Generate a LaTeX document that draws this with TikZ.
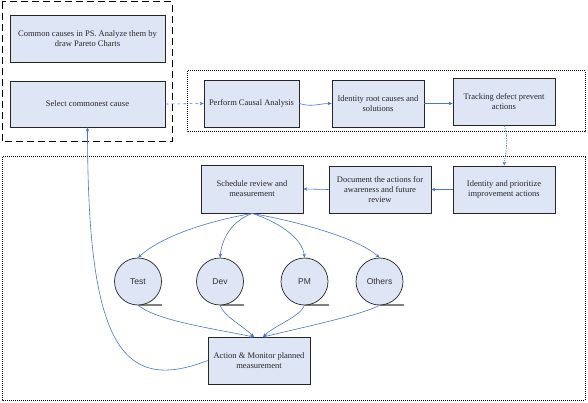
\documentclass[tikz,border=0pt]{standalone}
\usepackage{fontspec}
\setmainfont{Liberation Serif}
\newfontfamily\circfont{Liberation Sans}
\usetikzlibrary{arrows.meta,shadows}
\definecolor{flowc}{RGB}{74,116,205}
\definecolor{boxfill}{RGB}{222,229,245}
\begin{document}
\begin{tikzpicture}[x=1pt,y=-1pt,
  pbox/.style={draw=black!85, line width=0.8pt, fill=boxfill, align=center,
    font=\fontsize{8.5}{10}\selectfont, text=black!85, inner sep=2pt,
    drop shadow={shadow xshift=1.2pt,shadow yshift=-1.2pt,fill=black!65,opacity=1}},
  pcirc/.style={circle, draw=black!85, line width=0.7pt, fill=boxfill, minimum size=47pt,
    inner sep=0pt, font=\circfont\fontsize{8.5}{10}\selectfont, text=black!80},
  flow/.style={draw=flowc, line width=0.6pt, -{Stealth[length=4pt,width=3.5pt]}},
  grpdash/.style={draw=black, line width=1pt, dash pattern=on 7pt off 4pt},
  grpdot/.style={draw=black, line width=1pt, dash pattern=on 1pt off 1pt}
]
\useasboundingbox (0,0) rectangle (588,403);

% group frames
\draw[grpdash] (2,2) rectangle (172,142);
\draw[grpdot] (187,71) rectangle (585,132);
\draw[grpdot] (2,157) rectangle (585,400);

% boxes
\node[pbox, minimum width=155pt, minimum height=47pt] (common) at (87.5,38.5)
  {Common causes in PS. Analyze them by\\draw Pareto Charts};
\node[pbox, minimum width=155pt, minimum height=46pt] (select) at (87.5,104)
  {Select commonest cause};
\node[pbox, minimum width=95pt, minimum height=47pt] (perform) at (251.5,103.5)
  {Perform Causal Analysis};
\node[pbox, minimum width=92pt, minimum height=47pt] (rootc) at (378,103.5)
  {Identity root causes and\\solutions};
\node[pbox, minimum width=102pt, minimum height=47pt] (tracking) at (504,101.5)
  {Tracking defect prevent\\actions};
\node[pbox, minimum width=102pt, minimum height=47pt] (prior) at (504,189.5)
  {Identity and prioritize\\improvement actions};
\node[pbox, minimum width=102pt, minimum height=47pt] (document) at (380,189.5)
  {Document the actions for\\awareness and future\\review};
\node[pbox, minimum width=102pt, minimum height=48pt] (sched) at (252,189)
  {Schedule review and\\measurement};
\node[pbox, minimum width=102pt, minimum height=47pt] (action) at (259,360.5)
  {Action \& Monitor planned\\measurement};

% circles with base lines
\foreach \nm/\cx/\tx in {test/138/Test, dev/220/Dev, pm/304.5/PM, others/379.5/Others}{
  \draw[black!50, line width=1.5pt] (\cx,305) -- ++(24,0);
  \node[pcirc] (\nm) at (\cx,281.5) {\tx};
}

\coordinate (ain1) at (254,337);
\coordinate (ain2) at (263,337);

% connectors
\draw[flow, dashed] (select.east) -- (perform.west);
\draw[flow] (perform.east) .. controls +(12,4) and +(-12,0) .. (rootc.west);
\draw[flow] (rootc.east) -- (tracking.west |- rootc.east);
\draw[flow, dash pattern=on 1.5pt off 1pt] (tracking.south) .. controls +(5,12) and +(2,-15) .. (prior.north);
\draw[flow] (prior.west) -- (document.east);
\draw[flow] (document.west) -- (sched.east);

\draw[flow] (sched.south) .. controls +(-50,9) and +(22,-20) .. (test.north);
\draw[flow] (sched.south) .. controls +(-20,8) and +(2,-20) .. (dev.north);
\draw[flow] (sched.south) .. controls +(25,8) and +(-2,-20) .. (pm.north);
\draw[flow] (sched.south) .. controls +(55,10) and +(-20,-18) .. (others.north);

\draw[flow] (test.south) .. controls +(20,15) and +(-50,-10) .. (ain1);
\draw[flow] (dev.south) .. controls +(5,12) and +(-12,-12) .. (ain1);
\draw[flow] (pm.south) .. controls +(-5,12) and +(12,-12) .. (ain2);
\draw[flow] (others.south) .. controls +(-20,10) and +(50,-12) .. (ain2);

\draw[flow] (action.west) .. controls +(-88,34.5) and +(0,213) .. (select.south);
\end{tikzpicture}
\end{document}
